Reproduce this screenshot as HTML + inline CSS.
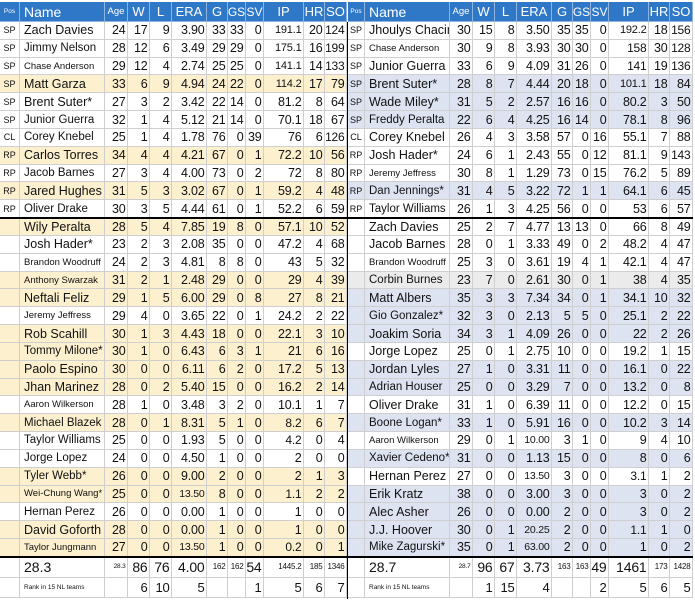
<!DOCTYPE html>
<html><head><meta charset="utf-8">
<style>
body{margin:0;background:#fff;width:695px;height:605px;overflow:hidden;font-family:"Liberation Sans",Arial,sans-serif;}
#t{position:relative;width:695px;height:605px;}
.c{position:absolute;box-sizing:border-box;border-right:1px solid #cfcfcf;border-bottom:1px solid #cfcfcf;white-space:nowrap;overflow:hidden;color:#111;display:flex;align-items:center;}
.h{background:#2f78c8;color:#fff;justify-content:center;border-color:#8fb4e0;font-size:13px;}
.n{justify-content:flex-end;padding-right:1.5px;font-size:12.5px;letter-spacing:-0.2px;}
.nm{padding-left:4px;}
.p{justify-content:center;font-size:9px;}
.ln{position:absolute;background:#000;}
</style></head><body>
<div id="t"></div>
<script>
const colsL=[0,20,105,128,150,172,207,228,246,264,304,325,347];
const colsR=[348,365,450,473,495,517,552,573,591,609,649,670,693];
const headers=["Pos","Name","Age","W","L","ERA","G","GS","SV","IP","HR","SO"];
const leftRows=[
["SP","Zach Davies","L",24,17,9,"3.90",33,33,0,"191.1",20,124,""],
["SP","Jimmy Nelson","M",28,12,6,"3.49",29,29,0,"175.1",16,199,""],
["SP","Chase Anderson","S",29,12,4,"2.74",25,25,0,"141.1",14,133,""],
["SP","Matt Garza","L",33,6,9,"4.94",24,22,0,"114.2",17,79,"Y"],
["SP","Brent Suter*","L",27,3,2,"3.42",22,14,0,"81.2",8,64,""],
["SP","Junior Guerra","M",32,1,4,"5.12",21,14,0,"70.1",18,67,""],
["CL","Corey Knebel","M",25,1,4,"1.78",76,0,39,"76",6,126,""],
["RP","Carlos Torres","L",34,4,4,"4.21",67,0,1,"72.2",10,56,"Y"],
["RP","Jacob Barnes","M",27,3,4,"4.00",73,0,2,"72",8,80,""],
["RP","Jared Hughes","L",31,5,3,"3.02",67,0,1,"59.2",4,48,"Y"],
["RP","Oliver Drake","M",30,3,5,"4.44",61,0,1,"52.2",6,59,""],
["","Wily Peralta","L",28,5,4,"7.85",19,8,0,"57.1",10,52,"Y"],
["","Josh Hader*","L",23,2,3,"2.08",35,0,0,"47.2",4,68,""],
["","Brandon Woodruff","S",24,2,3,"4.81",8,8,0,"43",5,32,""],
["","Anthony Swarzak","S",31,2,1,"2.48",29,0,0,"29",4,39,"Y"],
["","Neftali Feliz","L",29,1,5,"6.00",29,0,8,"27",8,21,"Y"],
["","Jeremy Jeffress","S",29,4,0,"3.65",22,0,1,"24.2",2,22,""],
["","Rob Scahill","L",30,1,3,"4.43",18,0,0,"22.1",3,10,"Y"],
["","Tommy Milone*","M",30,1,0,"6.43",6,3,1,"21",6,16,"Y"],
["","Paolo Espino","L",30,0,0,"6.11",6,2,0,"17.2",5,13,"Y"],
["","Jhan Marinez","L",28,0,2,"5.40",15,0,0,"16.2",2,14,"Y"],
["","Aaron Wilkerson","S",28,1,0,"3.48",3,2,0,"10.1",1,7,""],
["","Michael Blazek","M",28,0,1,"8.31",5,1,0,"8.2",6,7,"Y"],
["","Taylor Williams","M",25,0,0,"1.93",5,0,0,"4.2",0,4,""],
["","Jorge Lopez","M",24,0,0,"4.50",1,0,0,"2",0,0,""],
["","Tyler Webb*","M",26,0,0,"9.00",2,0,0,"2",1,3,"Y"],
["","Wei-Chung Wang*","S",25,0,0,"13.50",8,0,0,"1.1",2,2,"Y"],
["","Hernan Perez","M",26,0,0,"0.00",1,0,0,"1",0,0,""],
["","David Goforth","L",28,0,0,"0.00",1,0,0,"1",0,0,"Y"],
["","Taylor Jungmann","S",27,0,0,"13.50",1,0,0,"0.2",0,1,"Y"]];
const rightRows=[
["SP","Jhoulys Chacin","L",30,15,8,"3.50",35,35,0,"192.2",18,156,""],
["SP","Chase Anderson","S",30,9,8,"3.93",30,30,0,"158",30,128,""],
["SP","Junior Guerra","L",33,6,9,"4.09",31,26,0,"141",19,136,""],
["SP","Brent Suter*","L",28,8,7,"4.44",20,18,0,"101.1",18,84,"B"],
["SP","Wade Miley*","L",31,5,2,"2.57",16,16,0,"80.2",3,50,"B"],
["SP","Freddy Peralta","M",22,6,4,"4.25",16,14,0,"78.1",8,96,"B"],
["CL","Corey Knebel","L",26,4,3,"3.58",57,0,16,"55.1",7,88,""],
["RP","Josh Hader*","L",24,6,1,"2.43",55,0,12,"81.1",9,143,""],
["RP","Jeremy Jeffress","S",30,8,1,"1.29",73,0,15,"76.2",5,89,""],
["RP","Dan Jennings*","M",31,4,5,"3.22",72,1,1,"64.1",6,45,"B"],
["RP","Taylor Williams","M",26,1,3,"4.25",56,0,0,"53",6,57,""],
["","Zach Davies","L",25,2,7,"4.77",13,13,0,"66",8,49,""],
["","Jacob Barnes","L",28,0,1,"3.33",49,0,2,"48.2",4,47,""],
["","Brandon Woodruff","S",25,3,0,"3.61",19,4,1,"42.1",4,47,""],
["","Corbin Burnes","M",23,7,0,"2.61",30,0,1,"38",4,35,"G"],
["","Matt Albers","L",35,3,3,"7.34",34,0,1,"34.1",10,32,"B"],
["","Gio Gonzalez*","M",32,3,0,"2.13",5,5,0,"25.1",2,22,"B"],
["","Joakim Soria","L",34,3,1,"4.09",26,0,0,"22",2,26,"B"],
["","Jorge Lopez","L",25,0,1,"2.75",10,0,0,"19.2",1,15,""],
["","Jordan Lyles","L",27,1,0,"3.31",11,0,0,"16.1",0,22,"B"],
["","Adrian Houser","M",25,0,0,"3.29",7,0,0,"13.2",0,8,"B"],
["","Oliver Drake","L",31,1,0,"6.39",11,0,0,"12.2",0,15,""],
["","Boone Logan*","M",33,1,0,"5.91",16,0,0,"10.2",3,14,"B"],
["","Aaron Wilkerson","S",29,0,1,"10.00",3,1,0,"9",4,10,""],
["","Xavier Cedeno*","M",31,0,0,"1.13",15,0,0,"8",0,6,"B"],
["","Hernan Perez","L",27,0,0,"13.50",3,0,0,"3.1",1,2,""],
["","Erik Kratz","L",38,0,0,"3.00",3,0,0,"3",0,2,"B"],
["","Alec Asher","L",26,0,0,"0.00",2,0,0,"3",0,2,"B"],
["","J.J. Hoover","L",30,0,1,"20.25",2,0,0,"1.1",1,0,"B"],
["","Mike Zagurski*","M",35,0,1,"63.00",2,0,0,"1",0,2,"B"]];
const totalsL=["28.3","28.3",86,76,"4.00",162,162,54,"1445.2",185,1346];
const totalsR=["28.7","28.7",96,67,"3.73",163,163,49,"1461",173,1428];
const rankL=["Rank in 15 NL teams","",6,10,5,"","",1,5,6,7];
const rankR=["Rank in 15 NL teams","",1,15,4,"","",2,5,6,5];
const smallL=[5,6,8,9,10], smallR=[5,6,9,10];

const T=document.getElementById('t');
const HY=2,HH=20,RY=22,RH=17.83,TOT=557,TH=20.5;
const shades={Y:"#fdf0cf",B:"#dde3f1",G:"#ebebeb","":"#fff"};
const nsz={L:"12.5px",M:"11.5px",S:"9.5px"};
function cell(x1,x2,y,h,txt,cls,bg,name){
  const d=document.createElement('div');
  d.className='c '+cls;
  d.style.left=x1+'px';d.style.top=y+'px';d.style.width=(x2-x1)+'px';d.style.height=h+'px';
  if(bg)d.style.background=bg;
  d.textContent=txt;
  
  
  T.appendChild(d);return d;
}
function build(cols,rows,totals,rank,small,side){
  headers.forEach((h,i)=>{
    const d=cell(cols[i],cols[i+1],HY,HH,h,'h',null,side+'-header-'+h.toLowerCase());
    if(h==='Pos'||h==='Age'){d.style.fontSize=h==='Pos'?'6.5px':'9.5px';}
    if(h==='GS'||h==='SV'){d.style.fontSize='12px';}
    if(h==='Name'){d.style.justifyContent='flex-start';d.style.paddingLeft='4px';d.style.fontSize='14px';}
  });
  rows.forEach((r,ri)=>{
    const y=RY+ri*RH,bg=shades[r[13]];
    cell(cols[0],cols[1],y,RH,r[0],'p',bg,side+'-pos-cell');
    const nd=cell(cols[1],cols[2],y,RH,r[1],'nm',bg,side+'-player-name');
    nd.style.fontSize=nsz[r[2]];
    for(let k=3;k<13;k++){
      const s=String(r[k]);
      const d=cell(cols[k-1],cols[k],y,RH,s,'n',bg,side+'-stat-'+headers[k-1].toLowerCase());
      if(s.length>=5)d.style.fontSize=(k===6?'10.5px':'11px');
      else if(s.length===3&&k>=10)d.style.fontSize='12px';
    }
  });
  cell(cols[0],cols[1],TOT,TH,'','p','#fff',side+'-totals-pos');
  const t0=cell(cols[1],cols[2],TOT,TH,totals[0],'nm','#fff',side+'-totals-label');t0.style.fontSize='14px';
  for(let k=1;k<11;k++){
    const d=cell(cols[k+1],cols[k+2],TOT,TH,String(totals[k]),'n','#fff',side+'-total-'+headers[k+1].toLowerCase());
    if(k===1)d.style.fontSize='6.5px';
    else if(small.includes(k))d.style.fontSize='8px';
    else d.style.fontSize='14px';
  }
  cell(cols[0],cols[1],TOT+TH,TH,'','p','#fff',side+'-rank-pos');
  const r0=cell(cols[1],cols[2],TOT+TH,TH,rank[0],'nm','#fff',side+'-rank-label');r0.style.fontSize='6.5px';
  for(let k=1;k<11;k++){
    const d=cell(cols[k+1],cols[k+2],TOT+TH,TH,String(rank[k]),'n','#fff',side+'-rank-'+headers[k+1].toLowerCase());
    d.style.fontSize='13px';
  }
  const l1=document.createElement('div');l1.className='ln';
  l1.style.cssText=`left:${cols[0]}px;top:${RY+11*RH-1}px;width:${cols[12]-cols[0]}px;height:1.5px`;
  
  
  T.appendChild(l1);
  const l2=document.createElement('div');l2.className='ln';
  l2.style.cssText=`left:${cols[0]}px;top:${TOT-1}px;width:${cols[12]-cols[0]}px;height:1.5px`;
  
  
  T.appendChild(l2);
}
build(colsL,leftRows,totalsL,rankL,smallL,'left');
build(colsR,rightRows,totalsR,rankR,smallR,'right');
const v=document.createElement('div');v.className='ln';
v.style.cssText='left:346.5px;top:22px;width:1.5px;height:577px';


T.appendChild(v);
</script>
</body></html>
